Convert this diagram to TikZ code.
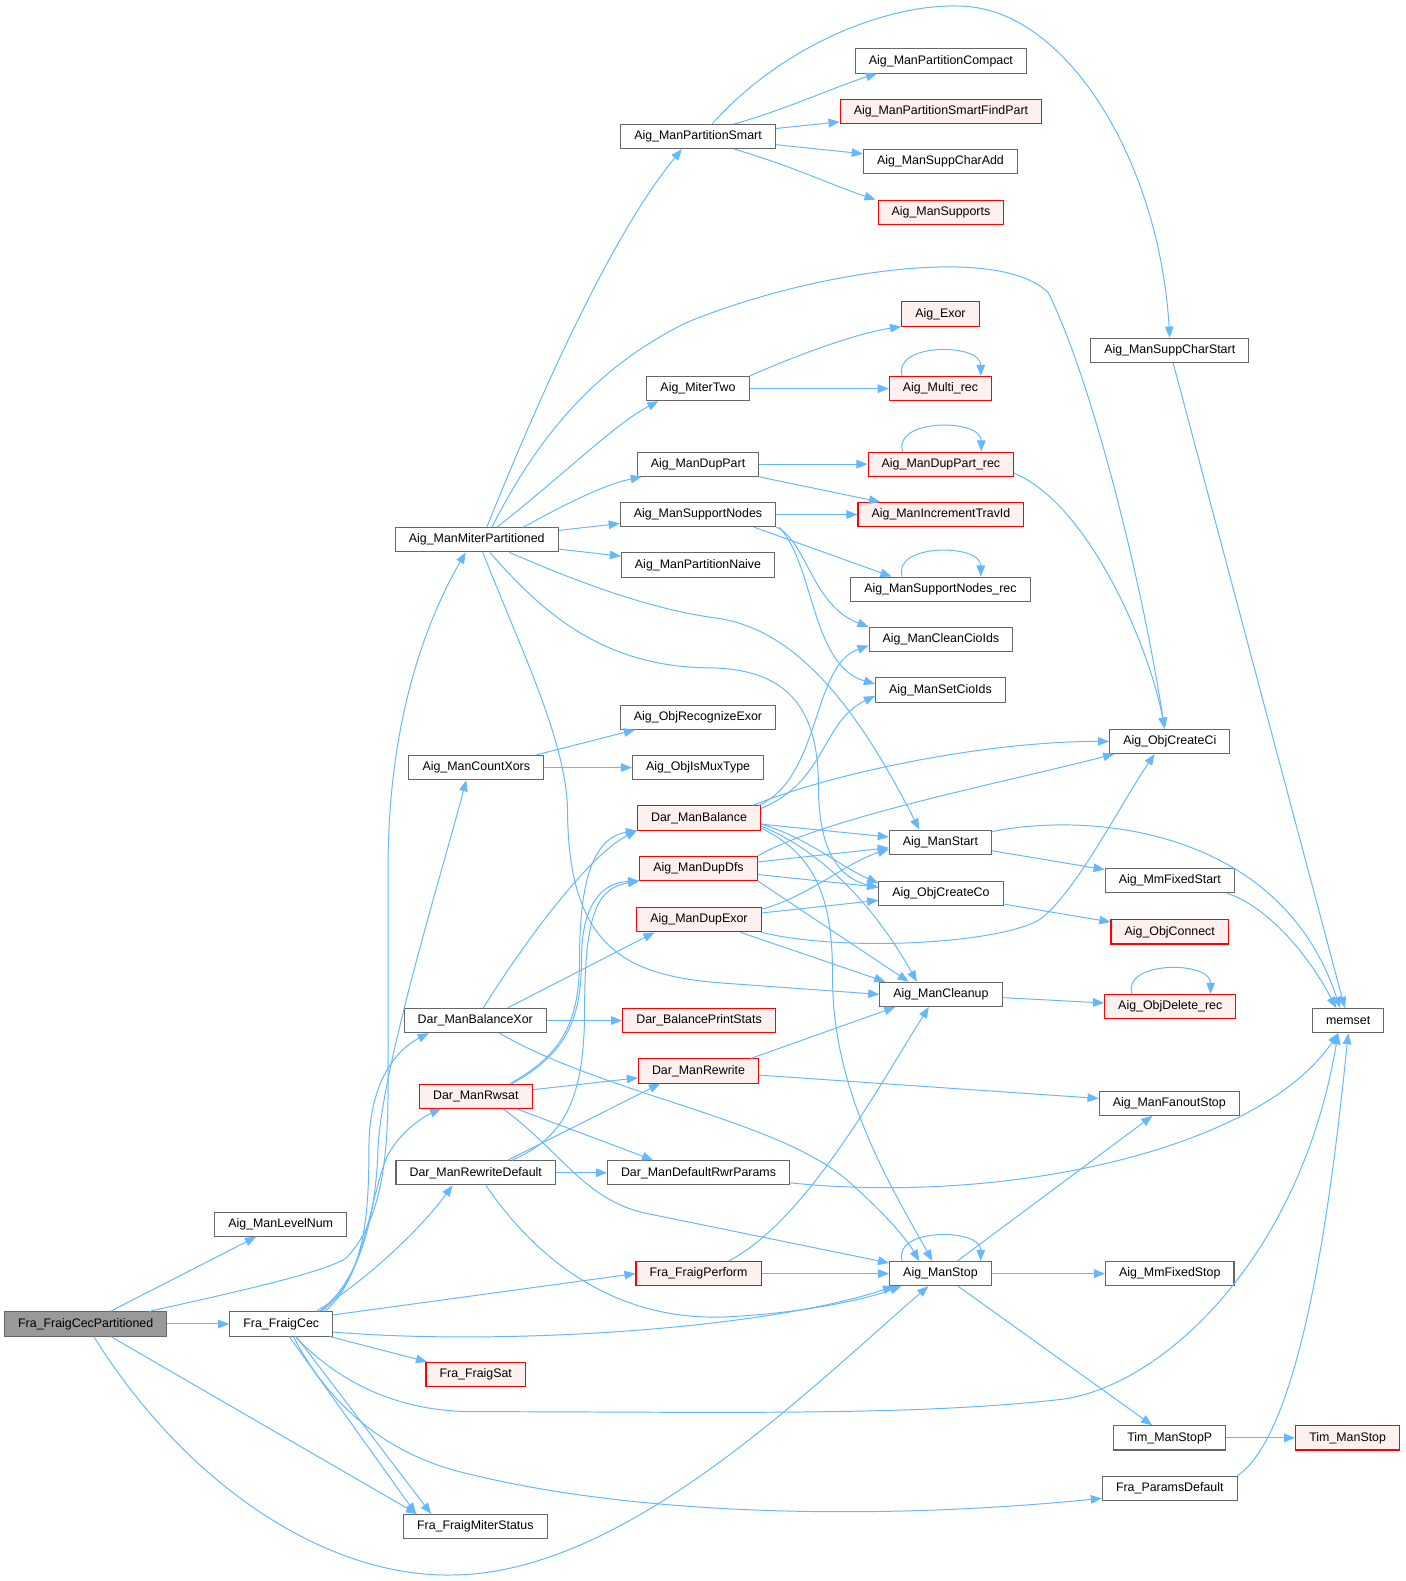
\documentclass[tikz,border=0pt]{standalone}
\usepackage{fontspec}
\setmainfont{Liberation Sans}
\usetikzlibrary{arrows.meta,calc}
\definecolor{edgeblue}{HTML}{63B8FF}
\definecolor{nodegray}{HTML}{666666}
\definecolor{redfill}{HTML}{FFF0F0}
\definecolor{rootfill}{HTML}{999999}

\begin{document}
\begin{tikzpicture}[x=0.02cm, y=-0.02cm,
  fn/.style={draw=nodegray, fill=white, line width=0.6pt, minimum height=0.48cm,
    inner xsep=0.27cm, inner ysep=0pt, font=\fontsize{7}{8}\selectfont},
  fnred/.style={fn, draw=red, fill=redfill},
  fnroot/.style={fn, fill=rootfill},
  edge/.style={draw=edgeblue, line width=0.55pt, -{Triangle[length=0.22cm,width=0.17cm]}}]
  % Canvas
  \fill[white] (0,0) rectangle (1394,1568);

  % Column 1
  \node[fnroot] (root) at (85,1313) {Fra\_FraigCecPartitioned};
  % Column 2
  \node[fn] (levelnum) at (278.5,1214) {Aig\_ManLevelNum};
  \node[fn] (fraigcec) at (279,1313) {Fra\_FraigCec};
  % Column 3
  \node[fn] (miterpart) at (473,535) {Aig\_ManMiterPartitioned};
  \node[fn] (countxors) at (472.5,761) {Aig\_ManCountXors};
  \node[fn] (balxor) at (471.5,1012) {Dar\_ManBalanceXor};
  \node[fnred] (rwsat) at (472,1087) {Dar\_ManRwsat};
  \node[fn] (rwdefault) at (472,1163) {Dar\_ManRewriteDefault};
  \node[fnred] (fraigsat) at (472,1363) {Fra\_FraigSat};
  \node[fn] (miterstatus) at (471.5,1514) {Fra\_FraigMiterStatus};
  % Column 4
  \node[fn] (partsmart) at (692.5,135) {Aig\_ManPartitionSmart};
  \node[fn] (mitertwo) at (692.5,385) {Aig\_MiterTwo};
  \node[fn] (duppart) at (692.5,460) {Aig\_ManDupPart};
  \node[fn] (suppnodes) at (692.5,510) {Aig\_ManSupportNodes};
  \node[fn] (partnaive) at (692.5,560) {Aig\_ManPartitionNaive};
  \node[fn] (recexor) at (692.5,711) {Aig\_ObjRecognizeExor};
  \node[fn] (ismux) at (692.5,761) {Aig\_ObjIsMuxType};
  \node[fnred] (balance) at (693.5,811) {Dar\_ManBalance};
  \node[fnred] (dupdfs) at (693,861) {Aig\_ManDupDfs};
  \node[fnred] (dupexor) at (693.5,912) {Aig\_ManDupExor};
  \node[fnred] (printstats) at (693.5,1012) {Dar\_BalancePrintStats};
  \node[fnred] (rewrite) at (693,1062) {Dar\_ManRewrite};
  \node[fn] (rwrparams) at (693,1163) {Dar\_ManDefaultRwrParams};
  \node[fnred] (fraigperf) at (693,1263) {Fra\_FraigPerform};
  % Column 5
  \node[fn] (partcompact) at (933.5,60) {Aig\_ManPartitionCompact};
  \node[fnred] (findpart) at (933.5,110) {Aig\_ManPartitionSmartFindPart};
  \node[fn] (suppcharadd) at (933,160) {Aig\_ManSuppCharAdd};
  \node[fnred] (supports) at (933.5,210) {Aig\_ManSupports};
  \node[fnred] (exor) at (933,311) {Aig\_Exor};
  \node[fnred] (multirec) at (933,385) {Aig\_Multi\_rec};
  \node[fnred] (dupprec) at (933.5,460) {Aig\_ManDupPart\_rec};
  \node[fnred] (travid) at (933.5,510) {Aig\_ManIncrementTravId};
  \node[fn] (suppnrec) at (933,584) {Aig\_ManSupportNodes\_rec};
  \node[fn] (cleancis) at (933.5,634) {Aig\_ManCleanCioIds};
  \node[fn] (setcis) at (933,684) {Aig\_ManSetCioIds};
  \node[fn] (manstart) at (933,835) {Aig\_ManStart};
  \node[fn] (createco) at (933.5,886) {Aig\_ObjCreateCo};
  \node[fn] (cleanup) at (933.5,986) {Aig\_ManCleanup};
  \node[fn] (manstop) at (933,1263) {Aig\_ManStop};
  % Column 6
  \node[fn] (suppcharstart) at (1160.5,347) {Aig\_ManSuppCharStart};
  \node[fn] (createci) at (1160.5,735) {Aig\_ObjCreateCi};
  \node[fn] (mmstart) at (1160.5,873) {Aig\_MmFixedStart};
  \node[fnred] (connect) at (1160.5,924) {Aig\_ObjConnect};
  \node[fnred] (delrec) at (1161,998) {Aig\_ObjDelete\_rec};
  \node[fn] (fanoutstop) at (1160,1094) {Aig\_ManFanoutStop};
  \node[fn] (mmstop) at (1160.5,1263) {Aig\_MmFixedStop};
  \node[fn] (timstopp) at (1160.5,1426) {Tim\_ManStopP};
  \node[fn] (paramsdef) at (1160.5,1476) {Fra\_ParamsDefault};
  % Column 7
  \node[fn] (memset) at (1337.5,1012) {memset};
  \node[fnred] (timstop) at (1337,1426) {Tim\_ManStop};

  % Calls of Fra_FraigCecPartitioned
  \draw[edge] (root) -- (levelnum);
  \draw[edge] (root) -- (fraigcec);
  \draw[edge] ($(root.north)+(63,0)$) .. controls (240,1280) and (320,1262) .. (343,1248)
    .. controls (375,1215) and (385,1160) .. (385,1080) -- (385,860)
    .. controls (385,720) and (420,620) .. ($(miterpart.south)+(-11,0)$);
  \draw[edge] ($(root.south)+(25,0)$) -- ($(miterstatus.north west)+(14,0)$);
  \draw[edge] ($(root.south)+(8,0)$) .. controls (190,1480) and (330,1565) .. (450,1562)
    .. controls (620,1560) and (800,1380) .. ($(manstop.south)+(-12,0)$);

  % Calls of Fra_FraigCec
  \draw[edge] ($(fraigcec.north)+(38,0)$) .. controls (350,1275) and (372,1225) .. (375,1140)
    .. controls (378,1060) and (440,860) .. ($(countxors.south)+(-10,0)$);
  \draw[edge] ($(fraigcec.north)+(40,0)$) .. controls (358,1270) and (366,1220) .. (366,1140)
    .. controls (366,1070) and (395,1040) .. ($(balxor.south west)+(25,0)$);
  \draw[edge] ($(fraigcec.north)+(43,0)$) .. controls (362,1270) and (368,1180) .. (385,1145)
    .. controls (400,1118) and (425,1105) .. ($(rwsat.south west)+(22,0)$);
  \draw[edge] ($(fraigcec.north)+(35,0)$) .. controls (370,1265) and (420,1215) .. ($(rwdefault.south)+(-23,0)$);
  \draw[edge] ($(fraigcec.east)+(0,-9)$) -- (fraigperf.west);
  \draw[edge] ($(fraigcec.east)+(0,8)$) .. controls (500,1335) and (760,1318) .. ($(manstop.south west)+(5,0)$);
  \draw[edge] (fraigcec) -- (fraigsat);
  \draw[edge] ($(fraigcec.south)+(8,0)$) -- ($(miterstatus.north west)+(13,0)$);
  \draw[edge] ($(fraigcec.south)+(15,0)$) -- ($(miterstatus.north west)+(28,0)$);
  \draw[edge] ($(fraigcec.south)+(14,0)$) .. controls (340,1375) and (400,1400) .. (470,1400)
    .. controls (700,1400) and (900,1405) .. (1051,1388)
    .. controls (1150,1377) and (1290,1250) .. ($(memset.south)+(-10,0)$);
  \draw[edge] ($(fraigcec.south)+(12,0)$) .. controls (330,1400) and (390,1445) .. (466,1462)
    .. controls (620,1500) and (850,1510) .. ($(paramsdef.west)+(0,10)$);

  % Calls of Dar_ManRewriteDefault
  \draw[edge] (rwdefault) -- (rwrparams);
  \draw[edge] ($(rwdefault.north)+(32,0)$) -- ($(rewrite.south west)+(22,0)$);
  \draw[edge] ($(rwdefault.north)+(36,0)$) .. controls (560,1128) and (580,1090) .. (580,1000)
    .. controls (580,900) and (595,880) .. (dupdfs.south west);
  \draw[edge] ($(rwdefault.south)+(10,0)$) .. controls (540,1260) and (620,1310) .. (720,1306)
    .. controls (800,1302) and (860,1288) .. ($(manstop.south west)+(12,0)$);

  % Calls of Dar_ManRwsat
  \draw[edge] (rwsat) -- (rewrite);
  \draw[edge] ($(rwsat.north)+(34,0)$) .. controls (560,1045) and (575,1010) .. (575,950)
    .. controls (575,870) and (590,830) .. (balance.south west);
  \draw[edge] ($(rwsat.north)+(36,0)$) .. controls (562,1045) and (577,1010) .. (577,950)
    .. controls (577,900) and (595,875) .. (dupdfs.south west);
  \draw[edge] ($(rwsat.south east)+(-16,0)$) -- ($(rwrparams.north)+(-45,0)$);
  \draw[edge] ($(rwsat.south)+(27,0)$) .. controls (555,1140) and (580,1190) .. (640,1203)
    -- ($(manstop.north west)+(0,2)$);

  % Calls of Dar_ManBalanceXor
  \draw[edge] ($(balxor.north)+(8,0)$) .. controls (510,950) and (580,850) .. (balance.south west);
  \draw[edge] ($(balxor.north)+(32,0)$) -- ($(dupexor.south west)+(18,0)$);
  \draw[edge] (balxor) -- (printstats);
  \draw[edge] ($(balxor.south)+(24,0)$) .. controls (600,1085) and (770,1110) .. (840,1170)
    .. controls (880,1205) and (900,1230) .. ($(manstop.north)+(-21,0)$);

  % Calls of Dar_ManBalance
  \draw[edge] ($(balance.north east)+(-2,0)$) .. controls (815,770) and (805,660) .. ($(cleancis.west)+(0,6)$);
  \draw[edge] ($(balance.north east)+(0,3)$) .. controls (820,775) and (815,715) .. ($(setcis.west)+(0,6)$);
  \draw[edge] ($(balance.north east)+(-8,0)$) .. controls (830,765) and (980,735) .. (createci.west);
  \draw[edge] (balance) -- (manstart);
  \draw[edge] ($(balance.east)+(0,6)$) .. controls (800,830) and (835,860) .. ($(createco.north west)+(0,2)$);
  \draw[edge] ($(balance.east)+(0,8)$) .. controls (830,850) and (880,920) .. ($(cleanup.north)+(-24,0)$);
  \draw[edge] ($(balance.east)+(0,10)$) .. controls (815,850) and (826,900) .. (826,970)
    .. controls (826,1080) and (880,1170) .. ($(manstop.north)+(-8,0)$);

  % Calls of Aig_ManDupDfs
  \draw[edge] (dupdfs) -- (manstart);
  \draw[edge] (dupdfs) -- (createco);
  \draw[edge] (dupdfs.north east) .. controls (820,810) and (1000,775) .. ($(createci.south west)+(5,0)$);
  \draw[edge] (dupdfs.south east) -- ($(cleanup.north)+(-32,0)$);

  % Calls of Aig_ManDupExor
  \draw[edge] ($(dupexor.north east)+(0,2)$) .. controls (800,890) and (840,855) .. ($(manstart.west)+(0,7)$);
  \draw[edge] (dupexor) -- (createco);
  \draw[edge] (dupexor.south east) .. controls (840,945) and (1000,935) .. (1034,910)
    .. controls (1070,880) and (1110,800) .. ($(createci.south)+(-15,0)$);
  \draw[edge] ($(dupexor.south east)+(-21,0)$) -- ($(cleanup.north west)+(6,0)$);

  % Calls of Aig_ManMiterPartitioned
  \draw[edge] ($(miterpart.north)+(10,0)$) .. controls (520,430) and (600,240) .. ($(partsmart.south)+(-16,0)$);
  \draw[edge] ($(miterpart.north)+(15,0)$) .. controls (540,420) and (600,360) .. (680,320)
    .. controls (800,270) and (990,240) .. (1040,290)
    .. controls (1080,370) and (1130,560) .. ($(createci.north)+(-5,0)$);
  \draw[edge] ($(miterpart.north)+(20,0)$) .. controls (560,470) and (610,420) .. ($(mitertwo.south west)+(12,0)$);
  \draw[edge] ($(miterpart.north east)+(-35,0)$) .. controls (560,500) and (600,480) .. ($(duppart.south west)+(5,0)$);
  \draw[edge] (miterpart) -- (suppnodes);
  \draw[edge] (miterpart) -- (partnaive);
  \draw[edge] ($(miterpart.south east)+(-49,0)$) .. controls (580,580) and (650,605) .. (713,613)
    .. controls (790,625) and (850,700) .. ($(manstart.north)+(-21,0)$);
  \draw[edge] ($(miterpart.south)+(13,0)$) .. controls (540,610) and (600,660) .. (700,662)
    .. controls (780,662) and (812,700) .. (812,780)
    .. controls (812,840) and (830,870) .. ($(createco.west)+(0,-6)$);
  \draw[edge] ($(miterpart.south)+(6,0)$) .. controls (515,640) and (560,730) .. (563,800)
    .. controls (563,940) and (620,968) .. (720,975) -- (cleanup.west);

  % Calls of Aig_ManPartitionSmart
  \draw[edge] ($(partsmart.north)+(36,0)$) .. controls (780,108) and (830,85) .. ($(partcompact.south west)+(22,0)$);
  \draw[edge] (partsmart) -- (findpart);
  \draw[edge] (partsmart) -- (suppcharadd);
  \draw[edge] ($(partsmart.south)+(36,0)$) .. controls (780,162) and (830,185) .. ($(supports.north west)+(-2,0)$);
  \draw[edge] ($(partsmart.north)+(14,0)$) .. controls (780,40) and (890,0) .. (960,6)
    .. controls (1060,14) and (1150,160) .. (suppcharstart.north);

  % Middle column calls
  \draw[edge] (mitertwo.north east) .. controls (790,352) and (850,330) .. (exor.south west);
  \draw[edge] (mitertwo) -- (multirec);
  \draw[edge] (duppart) -- (dupprec);
  \draw[edge] (duppart) -- (travid);
  \draw[edge] (suppnodes) -- (travid);
  \draw[edge] ($(suppnodes.south east)+(-22,0)$) -- ($(suppnrec.north west)+(41,0)$);
  \draw[edge] (suppnodes.south east) .. controls (800,535) and (805,600) .. (cleancis.north west);
  \draw[edge] ($(suppnodes.south east)+(3,0)$) .. controls (808,560) and (805,660) .. ($(setcis.west)+(0,-6)$);
  \draw[edge] ($(dupprec.east)+(0,9)$) .. controls (1080,500) and (1140,640) .. ($(createci.north)+(-5,0)$);
  \draw[edge] ($(countxors.north east)+(-8,0)$) -- ($(recexor.south west)+(15,0)$);
  \draw[edge] (countxors) -- (ismux);

  % Right side calls
  \draw[edge] (manstart) -- (mmstart);
  \draw[edge] ($(manstart.north east)+(0,2)$) .. controls (1080,805) and (1270,820) .. ($(memset.north)+(-8,0)$);
  \draw[edge] (createco) -- (connect);
  \draw[edge] (cleanup) -- (delrec);
  \draw[edge] (rewrite) -- (fanoutstop);
  \draw[edge] ($(rewrite.north east)+(-8,0)$) -- ($(cleanup.south west)+(16,0)$);
  \draw[edge] ($(fraigperf.north)+(30,0)$) .. controls (800,1210) and (870,1080) .. ($(cleanup.south)+(-12,0)$);
  \draw[edge] (fraigperf) -- (manstop);
  \draw[edge] (manstop) -- (fanoutstop);
  \draw[edge] (manstop) -- (mmstop);
  \draw[edge] (manstop) -- (timstopp);
  \draw[edge] (timstopp) -- (timstop);
  \draw[edge] ($(mmstart.south east)+(-8,0)$) .. controls (1260,900) and (1300,950) .. ($(memset.north)+(-12,0)$);
  \draw[edge] (suppcharstart) -- (memset);
  \draw[edge] ($(rwrparams.east)+(0,10)$) .. controls (1000,1195) and (1250,1140) .. ($(memset.south)+(-10,0)$);
  \draw[edge] (paramsdef.north east) .. controls (1290,1420) and (1320,1200) .. (memset.south);

  % Recursive calls
  \foreach \n in {multirec,dupprec,suppnrec,delrec,manstop}
    \draw[edge] ($(\n.north)+(-38,0)$) .. controls ($(\n.north)+(-48,-33)$) and ($(\n.north)+(40,-33)$) .. ($(\n.north)+(40,0)$);
\end{tikzpicture}
\end{document}
